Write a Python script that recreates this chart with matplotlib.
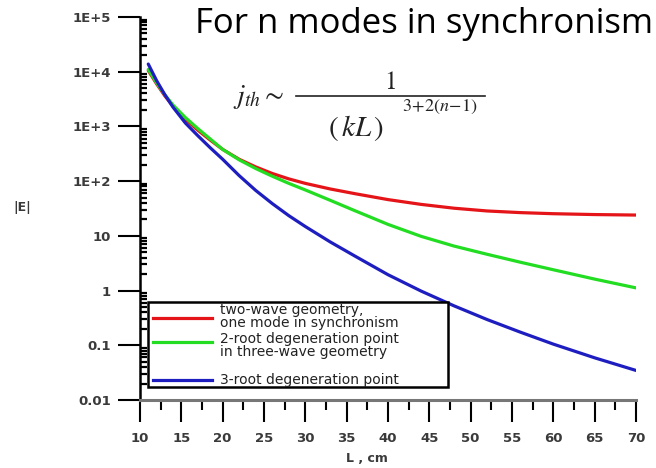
import matplotlib
matplotlib.use("Agg")
import matplotlib.pyplot as plt
from matplotlib.ticker import FixedLocator, LogLocator, NullFormatter, FixedFormatter
from matplotlib.lines import Line2D
from matplotlib.patches import Rectangle
from matplotlib.font_manager import FontProperties

# ---- data ----
L = [11, 12, 13, 14, 15.5, 17, 18.5, 20, 22, 24, 26, 28, 30, 33, 36, 40, 44, 48, 52, 56, 60, 65, 70]
E_red = [10500, 6030, 3630, 2340, 1350, 851, 562, 380, 251, 182, 138, 110, 91, 72, 59,
         46, 37.6, 32, 28.5, 26.6, 25.4, 24.5, 24]
E_green = [11000, 6310, 3800, 2450, 1450, 912, 589, 380, 245, 170, 123, 91, 69, 44.7, 28.8,
           16.2, 9.8, 6.5, 4.6, 3.3, 2.4, 1.62, 1.12]
E_blue = [13800, 6920, 3800, 2240, 1150, 676, 407, 251, 126, 67.6, 38.9, 23.4, 14.8, 7.76, 4.27,
          1.95, 0.98, 0.525, 0.295, 0.174, 0.105, 0.059, 0.0347]

labels = ["two-wave geometry,\none mode in synchronism",
          "2-root degeneration point\nin three-wave geometry",
          "3-root degeneration point"]
colors = ["#e41418", "#22dd22", "#1e1ec0"]

x_ticks = [10, 15, 20, 25, 30, 35, 40, 45, 50, 55, 60, 65, 70]
y_ticks = [1e-2, 1e-1, 1, 10, 1e2, 1e3, 1e4, 1e5]
y_ticklabels = ["0.01", "0.1", "1", "10", "1E+2", "1E+3", "1E+4", "1E+5"]

W, H = 656, 468
fig = plt.figure(figsize=(W / 100, H / 100), dpi=100)
fig.patch.set_facecolor("white")

def fx(px):
    return px / W

def fy(py):
    return 1 - py / H

ax = fig.add_axes([fx(140), fy(400), (636 - 140) / W, (400 - 17) / H])
ax.set_yscale("log")
ax.set_xlim(10, 70)
ax.set_ylim(1e-2, 1e5)

for yv, c in zip([E_red, E_green, E_blue], colors):
    ax.plot(L, yv, color=c, lw=2.3, solid_capstyle="round", solid_joinstyle="round")

for s in ["top", "right"]:
    ax.spines[s].set_visible(False)
ax.spines["left"].set_linewidth(1.8)
ax.spines["bottom"].set_linewidth(2.2)
ax.spines["bottom"].set_color("#777777")

tick_font = dict(family="DejaVu Sans", weight="bold", size=9.5)
ax.yaxis.set_major_locator(FixedLocator(y_ticks))
ax.yaxis.set_major_formatter(FixedFormatter(y_ticklabels))
ax.yaxis.set_minor_locator(LogLocator(base=10, subs=range(2, 10), numticks=20))
ax.yaxis.set_minor_formatter(NullFormatter())
ax.tick_params(axis="y", which="major", direction="out", length=16, width=1.5, pad=5, labelcolor="#3a3a3a")
ax.tick_params(axis="y", which="minor", direction="in", length=5, width=1.6)

ax.xaxis.set_major_locator(FixedLocator(x_ticks))
ax.xaxis.set_minor_locator(FixedLocator([x + 2.5 for x in x_ticks[:-1]]))
ax.tick_params(axis="x", which="major", direction="out", length=16, width=1.5, pad=7, labelcolor="#3a3a3a")
ax.tick_params(axis="x", which="minor", direction="out", length=7, width=1.5)
for lab in ax.get_xticklabels() + ax.get_yticklabels():
    lab.set_fontproperties(FontProperties(**tick_font))

fig.text(fx(22), fy(207), "|E|", ha="center", va="center", color="#3a3a3a",
         family="DejaVu Sans", weight="bold", size=9)
fig.text(fx(367), fy(458), "L , cm", ha="center", va="center", color="#3a3a3a",
         family="DejaVu Sans", weight="bold", size=9)

# legend box
fig.patches.append(Rectangle((fx(148), fy(387)), (448 - 148) / W, (387 - 302) / H,
                             transform=fig.transFigure, facecolor="white",
                             edgecolor="black", lw=1.8, zorder=5))
leg_rows = [(318, [310, 323]), (342, [339, 352]), (380, [380])]
for (ly, tys), lab, c in zip(leg_rows, labels, colors):
    fig.lines.append(Line2D([fx(153), fx(212)], [fy(ly), fy(ly)], transform=fig.transFigure,
                            color=c, lw=2.3, zorder=6))
    for t, ty in zip(lab.split("\n"), tys):
        fig.text(fx(220), fy(ty), t, ha="left", va="center", fontsize=10,
                 family="DejaVu Sans", color="#222222", zorder=7)

# title
fig.text(fx(653), fy(24), "For n modes in synchronism", ha="right", va="center",
         fontsize=25, family="Open Sans", color="black")

# formula
plt.rcParams["mathtext.fontset"] = "stix"
fig.text(fx(233), fy(97), r"$j_{th}\sim$", ha="left", va="center", fontsize=20, color="#222222")
fig.lines.append(Line2D([fx(296), fx(485)], [fy(96), fy(96)], transform=fig.transFigure,
                        color="#222222", lw=1.2))
fig.text(fx(390), fy(82), r"$1$", ha="center", va="center", fontsize=18, color="#222222")
fig.text(fx(356), fy(128), r"$\left(\,kL\,\right)$", ha="center", va="center", fontsize=21, color="#222222")
fig.text(fx(440), fy(107), r"$3\!+\!2(n\!-\!1)$", ha="center", va="center", fontsize=13, color="#222222")

fig.savefig("out.png", dpi=100)
